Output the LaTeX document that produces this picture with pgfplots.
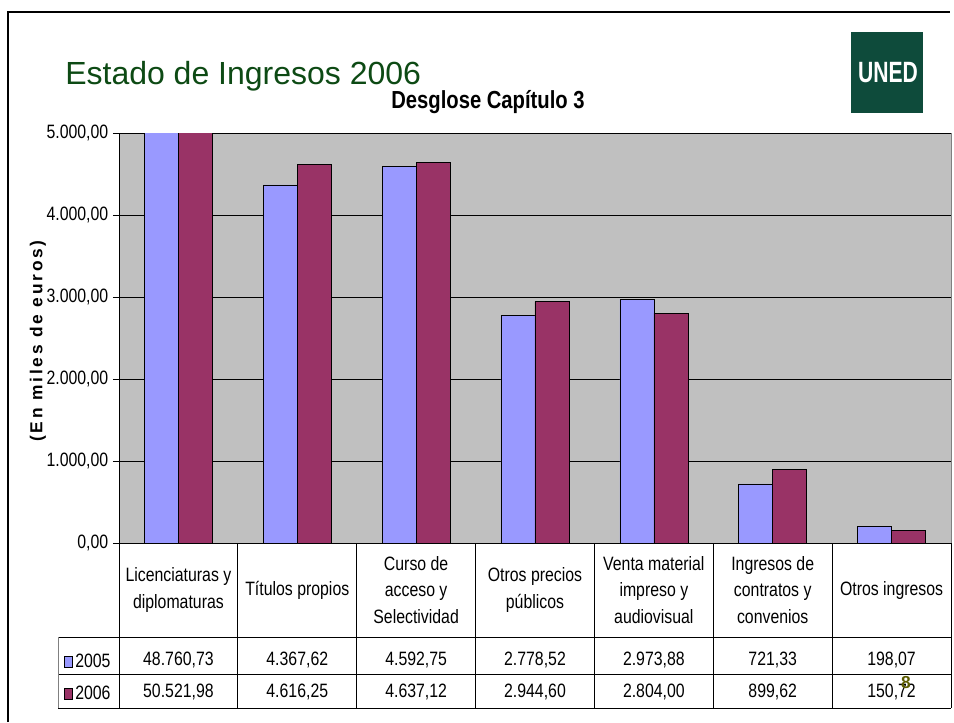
\documentclass[border=0pt]{standalone}
\usepackage{fontspec}
\setmainfont{Liberation Sans}
\newfontfamily\narrow{Liberation Sans}[FakeStretch=0.82]
\newfontfamily\spaced{Liberation Sans}[LetterSpace=16]
\usepackage{pgfplots}
\pgfplotsset{compat=1.18}

\definecolor{bar05}{HTML}{9999FF}
\definecolor{bar06}{HTML}{993366}
\definecolor{plotbg}{HTML}{C0C0C0}
\definecolor{titlegreen}{HTML}{0D4A14}
\definecolor{unedgreen}{HTML}{0E4B3B}
\definecolor{pagenum}{HTML}{5C5C00}

\begin{document}
\begin{tikzpicture}[x=0.75pt, y=-0.75pt]
\useasboundingbox (0,0) rectangle (954,722);

% slide frame
\draw[line width=1.5pt] (8,722) -- (8,12) -- (950,12);

% title and logo
\node[anchor=base west, text=titlegreen, font=\fontsize{24}{28}\selectfont, inner sep=0pt] at (65,84) {Estado de Ingresos 2006};
\fill[unedgreen] (851,32) rectangle (923,113);
\node[text=white, font=\bfseries\fontsize{22}{22}\selectfont, xscale=0.72] at (888,73) {UNED};
\node[anchor=base, font=\narrow\bfseries\fontsize{18.5}{22}\selectfont, inner sep=0pt] at (488,108) {Desglose Capítulo 3};

% axis corner at pixel (119,543)
\begin{axis}[
    at={(89.25pt,-407.25pt)}, anchor=south west,
    scale only axis, width=624pt, height=307.5pt,
    xmin=-0.5, xmax=6.5, ymin=0, ymax=5000,
    ybar=0pt, bar width=25.5pt,
    xtick=\empty,
    ytick={0,1000,...,5000},
    scaled y ticks=false,
    ymajorgrids,
    grid style={black, line width=0.6pt},
    axis background/.style={fill=plotbg, draw=gray},
    axis lines*=left,
    axis line style={black, line width=0.75pt, -},
    ytick align=outside, ytick pos=left,
    major tick length=4.5pt,
    tick style={black, line width=0.75pt},
    tick label style={font=\narrow\fontsize{14.5}{17}\selectfont},
    yticklabel style={/pgf/number format/.cd, fixed, fixed zerofill, precision=2, 1000 sep={.}, dec sep={,}, assume math mode=true},
  ]
  \addplot[fill=bar05, draw=black, line width=0.5pt] coordinates {
    (0,48760.73) (1,4367.62) (2,4592.75) (3,2778.52) (4,2973.88) (5,721.33) (6,198.07)
  };
  \addplot[fill=bar06, draw=black, line width=0.5pt] coordinates {
    (0,50521.98) (1,4616.25) (2,4637.12) (3,2944.60) (4,2804.00) (5,899.62) (6,150.72)
  };
\end{axis}

% y label
\node[rotate=90, font=\spaced\bfseries\fontsize{13}{14}\selectfont] at (38,341) {(En miles de euros)};

% data table
\foreach \k in {0,...,7} {
  \pgfmathsetmacro{\xx}{119+118.857*\k}
  \draw[line width=0.75pt] (\xx,543) -- (\xx,708);
}
\draw[line width=0.75pt] (58,637) -- (951,637);
\draw[line width=0.75pt] (58,674) -- (951,674);
\draw[line width=0.75pt] (58,708) -- (951,708);
\draw[line width=0.75pt, gray] (58,637) -- (58,708);

\foreach \lab [count=\i from 0] in {
    {Licenciaturas y\\diplomaturas},
    {Títulos propios},
    {Curso de\\acceso y\\Selectividad},
    {Otros precios\\públicos},
    {Venta material\\impreso y\\audiovisual},
    {Ingresos de\\contratos y\\convenios},
    {Otros ingresos}} {
  \pgfmathsetmacro{\xc}{119+118.857*(\i+0.5)}
  \node[align=center, font=\narrow\fontsize{14.5}{20}\selectfont] at (\xc,590) {\lab};
}

\foreach \v [count=\i from 0] in {{48.760,73},{4.367,62},{4.592,75},{2.778,52},{2.973,88},{721,33},{198,07}} {
  \pgfmathsetmacro{\xc}{119+118.857*(\i+0.5)}
  \node[font=\narrow\fontsize{14.5}{17}\selectfont] at (\xc,660) {\v};
}
\foreach \v [count=\i from 0] in {{50.521,98},{4.616,25},{4.637,12},{2.944,60},{2.804,00},{899,62},{150,72}} {
  \pgfmathsetmacro{\xc}{119+118.857*(\i+0.5)}
  \node[font=\narrow\fontsize{14.5}{17}\selectfont] at (\xc,692) {\v};
}

% legend keys
\filldraw[fill=bar05, draw=black, line width=0.5pt] (64,656) rectangle (72,667);
\node[anchor=west, inner sep=0pt, font=\narrow\fontsize{14.5}{17}\selectfont] at (75,661) {2005};
\filldraw[fill=bar06, draw=black, line width=0.5pt] (64,688) rectangle (72,699);
\node[anchor=west, inner sep=0pt, font=\narrow\fontsize{14.5}{17}\selectfont] at (75,693) {2006};

% page number
\node[text=pagenum, font=\bfseries\fontsize{13}{13}\selectfont] at (906,683) {8};
\end{tikzpicture}
\end{document}
